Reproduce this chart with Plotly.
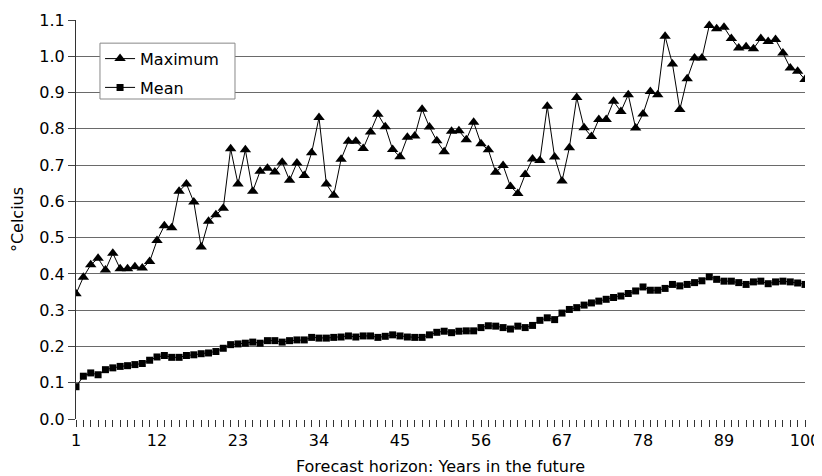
import plotly.graph_objects as go

years = list(range(1, 101))

maximum = [
    0.345, 0.391, 0.425, 0.443, 0.411, 0.457, 0.414, 0.414, 0.420, 0.416,
    0.434, 0.492, 0.533, 0.527, 0.628, 0.648, 0.598, 0.474, 0.545, 0.563,
    0.581, 0.745, 0.648, 0.742, 0.628, 0.683, 0.691, 0.681, 0.708, 0.658,
    0.706, 0.671, 0.734, 0.831, 0.648, 0.617, 0.716, 0.766, 0.766, 0.746,
    0.791, 0.840, 0.806, 0.743, 0.723, 0.777, 0.780, 0.854, 0.805, 0.767,
    0.737, 0.793, 0.795, 0.770, 0.818, 0.759, 0.742, 0.680, 0.699, 0.641,
    0.622, 0.674, 0.717, 0.713, 0.862, 0.722, 0.656, 0.748, 0.886, 0.803,
    0.779, 0.826, 0.826, 0.876, 0.848, 0.894, 0.802, 0.841, 0.903, 0.894,
    1.055, 0.979, 0.853, 0.938, 0.995, 0.995, 1.085, 1.076, 1.080, 1.049,
    1.023, 1.026, 1.021, 1.049, 1.041, 1.046, 1.009, 0.968, 0.959, 0.936,
]

mean = [
    0.089, 0.118, 0.127, 0.122, 0.136, 0.141, 0.145, 0.147, 0.150, 0.153,
    0.162, 0.171, 0.175, 0.170, 0.170, 0.175, 0.177, 0.180, 0.182, 0.186,
    0.195, 0.205, 0.207, 0.209, 0.212, 0.209, 0.216, 0.216, 0.212, 0.216,
    0.218, 0.218, 0.225, 0.223, 0.223, 0.225, 0.226, 0.229, 0.226, 0.229,
    0.229, 0.225, 0.228, 0.232, 0.229, 0.226, 0.225, 0.225, 0.232, 0.239,
    0.242, 0.238, 0.242, 0.243, 0.243, 0.252, 0.257, 0.256, 0.252, 0.248,
    0.256, 0.252, 0.258, 0.272, 0.279, 0.274, 0.292, 0.302, 0.307, 0.314,
    0.320, 0.325, 0.330, 0.335, 0.339, 0.346, 0.353, 0.364, 0.355, 0.355,
    0.360, 0.371, 0.367, 0.371, 0.376, 0.381, 0.392, 0.385, 0.380, 0.380,
    0.376, 0.371, 0.378, 0.380, 0.373, 0.378, 0.380, 0.378, 0.375, 0.371,
]

x_labeled = [1, 12, 23, 34, 45, 56, 67, 78, 89, 100]
y_ticks = [0.0, 0.1, 0.2, 0.3, 0.4, 0.5, 0.6, 0.7, 0.8, 0.9, 1.0, 1.1]

x_ticktext = [str(v) if v in x_labeled else "" for v in years]

FONT = "DejaVu Sans, Liberation Sans, Arial, sans-serif"

fig = go.Figure()
fig.add_trace(go.Scatter(
    x=years, y=maximum, name="Maximum", mode="lines+markers",
    line=dict(color="black", width=1),
    marker=dict(symbol="triangle-up", size=10, color="black"),
    legendgroup="a",
))
fig.add_trace(go.Scatter(
    x=years, y=mean, name="Mean", mode="lines+markers",
    line=dict(color="black", width=1),
    marker=dict(symbol="square", size=7, color="black"),
    legendgroup="b",
))

# legend frame
fig.add_shape(
    type="rect", xref="paper", yref="paper",
    x0=0.0329, x1=0.2181, y0=0.802, y1=0.942,
    line=dict(color="#888888", width=1), fillcolor="white", layer="above",
)

fig.update_layout(
    width=814, height=468,
    margin=dict(l=68, r=17, t=12, b=57),
    paper_bgcolor="white", plot_bgcolor="white",
    font=dict(family=FONT, size=16, color="black"),
    showlegend=True,
    legend=dict(
        x=0.033, y=0.9456, xanchor="left", yanchor="top",
        bgcolor="rgba(0,0,0,0)", borderwidth=0,
        font=dict(size=16, color="black"), tracegroupgap=5,
        itemwidth=30,
    ),
    xaxis=dict(
        range=[1, 100], tickmode="array", tickvals=years, ticktext=x_ticktext,
        ticks="outside", ticklen=7, tickcolor="#333333", tickwidth=1,
        showgrid=False, zeroline=False, showline=False, automargin=False,
        ticklabelstandoff=0,
        title=dict(text="Forecast horizon: Years in the future",
                   font=dict(size=16, color="black"), standoff=11),
        tickfont=dict(size=16, color="black"),
    ),
    yaxis=dict(
        range=[0, 1.1], tickmode="array", tickvals=y_ticks,
        ticktext=[f"{v:.1f}" for v in y_ticks],
        ticks="outside", ticklen=7, tickcolor="#444444",
        showgrid=True, gridcolor="#6a6a6a", gridwidth=1,
        zeroline=False, showline=True, linecolor="#333333", linewidth=1,
        automargin=False,
        title=dict(text="°Celcius", font=dict(size=16, color="black"), standoff=16),
        tickfont=dict(size=16, color="black"),
    ),
)

fig.write_html("out.html")
